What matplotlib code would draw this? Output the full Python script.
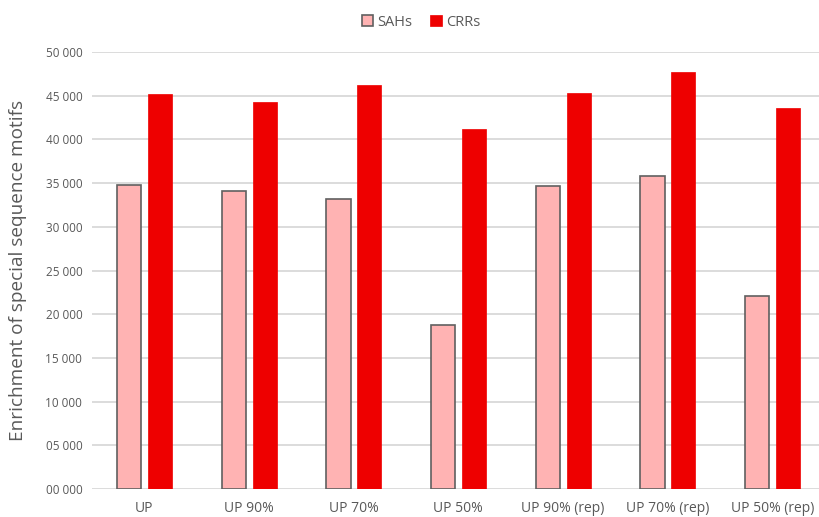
import numpy as np
import matplotlib.pyplot as plt
from matplotlib.ticker import FuncFormatter

categories = ["UP", "UP 90%", "UP 70%", "UP 50%",
              "UP 90% (rep)", "UP 70% (rep)", "UP 50% (rep)"]
sahs = [34800, 34100, 33200, 18800, 34700, 35800, 22100]
crrs = [45200, 44300, 46200, 41200, 45300, 47700, 43600]

plt.rcParams['font.family'] = ['Open Sans', 'DejaVu Sans']
grey = "#595959"

fig = plt.figure(figsize=(8.2, 5.17), dpi=100)
ax = fig.add_axes([92 / 820, 28 / 517, 732.7 / 820, 437 / 517])

x = np.arange(len(categories))
w = 0.23
ax.bar(x - 0.145, sahs, w, color="#ffb3b3", edgecolor="#606060",
       linewidth=1.2, label="SAHs", zorder=3)
ax.bar(x + 0.15, crrs, w, color="#ee0000", edgecolor="#ee0000",
       linewidth=0.5, label="CRRs", zorder=3)

ax.set_xlim(-0.5, len(categories) - 0.5)
ax.set_ylim(0, 50000)
ax.set_yticks(np.arange(0, 50001, 5000))
ax.yaxis.set_major_formatter(FuncFormatter(lambda v, p: "{:02d} 000".format(int(v) // 1000)))
ax.set_xticks(x)
ax.set_xticklabels(categories)
ax.grid(axis="y", color="#d9d9d9", linewidth=1.3, zorder=0)
ax.tick_params(axis="y", length=0, labelsize=8.5, colors=grey, pad=7)
ax.tick_params(axis="x", length=0, labelsize=10, colors=grey, pad=9)
for s in ax.spines.values():
    s.set_visible(False)

fig.text(18 / 820, 1 - 270 / 517, "Enrichment of special sequence motifs",
         rotation=90, ha="center", va="center", fontsize=13.7, color=grey)

leg = fig.legend(loc="center", bbox_to_anchor=(421 / 820, 1 - 22 / 517), ncol=2,
                 frameon=False, fontsize=10.5, handlelength=0.8, handleheight=0.8,
                 handletextpad=0.3, columnspacing=1.2)
for t in leg.get_texts():
    t.set_color(grey)

fig.savefig("out.png", dpi=100)
